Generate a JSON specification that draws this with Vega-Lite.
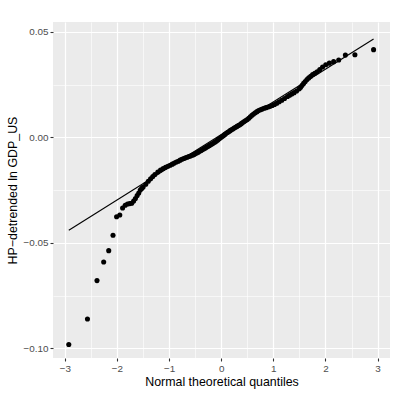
{
  "$schema": "https://vega.github.io/schema/vega-lite/v6.json",
  "width": 337,
  "height": 336,
  "autosize": {"type": "none"},
  "padding": {"left": 53, "top": 22, "right": 21, "bottom": 37},
  "background": "white",
  "config": {
    "view": {"stroke": null, "fill": "#EBEBEB"},
    "axis": {"labelFont": "Liberation Sans", "titleFont": "Liberation Sans"}
  },
  "datasets": {
    "pts": [
      {"q": -2.923, "v": -0.0982}, {"q": -2.565, "v": -0.0861}, {"q": -2.382, "v": -0.0679}, {"q": -2.254, "v": -0.0591},
      {"q": -2.157, "v": -0.0537}, {"q": -2.075, "v": -0.0464}, {"q": -2.006, "v": -0.0376}, {"q": -1.945, "v": -0.0368},
      {"q": -1.891, "v": -0.0335}, {"q": -1.841, "v": -0.0322}, {"q": -1.796, "v": -0.0316}, {"q": -1.754, "v": -0.0314},
      {"q": -1.716, "v": -0.0312}, {"q": -1.679, "v": -0.0302}, {"q": -1.645, "v": -0.0290}, {"q": -1.612, "v": -0.0276},
      {"q": -1.581, "v": -0.0264}, {"q": -1.552, "v": -0.0250}, {"q": -1.524, "v": -0.0242}, {"q": -1.497, "v": -0.0235},
      {"q": -1.446, "v": -0.0222}, {"q": -1.398, "v": -0.0208}, {"q": -1.354, "v": -0.0196}, {"q": -1.312, "v": -0.0186},
      {"q": -1.272, "v": -0.0176}, {"q": -1.215, "v": -0.0164}, {"q": -1.163, "v": -0.0155}, {"q": -1.113, "v": -0.0148},
      {"q": -1.067, "v": -0.0142}, {"q": -1.022, "v": -0.0137}, {"q": -0.979, "v": -0.0132}, {"q": -0.938, "v": -0.0127},
      {"q": -0.898, "v": -0.0122}, {"q": -0.860, "v": -0.0117}, {"q": -0.823, "v": -0.0113}, {"q": -0.787, "v": -0.0108},
      {"q": -0.752, "v": -0.0104}, {"q": -0.718, "v": -0.0100}, {"q": -0.685, "v": -0.0097}, {"q": -0.653, "v": -0.0094},
      {"q": -0.621, "v": -0.0091}, {"q": -0.590, "v": -0.0088}, {"q": -0.559, "v": -0.0085}, {"q": -0.529, "v": -0.0082},
      {"q": -0.500, "v": -0.0078}, {"q": -0.470, "v": -0.0074}, {"q": -0.441, "v": -0.0070}, {"q": -0.413, "v": -0.0066},
      {"q": -0.385, "v": -0.0062}, {"q": -0.357, "v": -0.0058}, {"q": -0.330, "v": -0.0054}, {"q": -0.303, "v": -0.0050},
      {"q": -0.276, "v": -0.0046}, {"q": -0.249, "v": -0.0042}, {"q": -0.222, "v": -0.0038}, {"q": -0.196, "v": -0.0034},
      {"q": -0.170, "v": -0.0030}, {"q": -0.143, "v": -0.0026}, {"q": -0.117, "v": -0.0022}, {"q": -0.091, "v": -0.0017},
      {"q": -0.065, "v": -0.0012}, {"q": -0.039, "v": -0.0007}, {"q": -0.013, "v": -0.0002}, {"q": 0.013, "v": 0.0003},
      {"q": 0.039, "v": 0.0008}, {"q": 0.065, "v": 0.0013}, {"q": 0.091, "v": 0.0018}, {"q": 0.117, "v": 0.0023},
      {"q": 0.143, "v": 0.0027}, {"q": 0.170, "v": 0.0032}, {"q": 0.196, "v": 0.0036}, {"q": 0.222, "v": 0.0040},
      {"q": 0.249, "v": 0.0044}, {"q": 0.276, "v": 0.0048}, {"q": 0.303, "v": 0.0052}, {"q": 0.330, "v": 0.0056},
      {"q": 0.357, "v": 0.0060}, {"q": 0.385, "v": 0.0065}, {"q": 0.413, "v": 0.0070}, {"q": 0.441, "v": 0.0075},
      {"q": 0.470, "v": 0.0080}, {"q": 0.500, "v": 0.0085}, {"q": 0.529, "v": 0.0091}, {"q": 0.559, "v": 0.0098},
      {"q": 0.590, "v": 0.0105}, {"q": 0.621, "v": 0.0111}, {"q": 0.653, "v": 0.0117}, {"q": 0.685, "v": 0.0122},
      {"q": 0.718, "v": 0.0127}, {"q": 0.752, "v": 0.0131}, {"q": 0.787, "v": 0.0134}, {"q": 0.823, "v": 0.0138},
      {"q": 0.860, "v": 0.0141}, {"q": 0.898, "v": 0.0144}, {"q": 0.938, "v": 0.0147}, {"q": 0.979, "v": 0.0151},
      {"q": 1.022, "v": 0.0156}, {"q": 1.067, "v": 0.0162}, {"q": 1.113, "v": 0.0169}, {"q": 1.163, "v": 0.0176},
      {"q": 1.215, "v": 0.0184}, {"q": 1.272, "v": 0.0194}, {"q": 1.312, "v": 0.0200}, {"q": 1.354, "v": 0.0206},
      {"q": 1.398, "v": 0.0212}, {"q": 1.446, "v": 0.0220}, {"q": 1.497, "v": 0.0230}, {"q": 1.524, "v": 0.0238},
      {"q": 1.552, "v": 0.0247}, {"q": 1.581, "v": 0.0256}, {"q": 1.612, "v": 0.0265}, {"q": 1.645, "v": 0.0274},
      {"q": 1.679, "v": 0.0282}, {"q": 1.716, "v": 0.0290}, {"q": 1.754, "v": 0.0298}, {"q": 1.796, "v": 0.0304},
      {"q": 1.841, "v": 0.0311}, {"q": 1.891, "v": 0.0321}, {"q": 1.945, "v": 0.0334}, {"q": 2.006, "v": 0.0344},
      {"q": 2.075, "v": 0.0352}, {"q": 2.157, "v": 0.0359}, {"q": 2.254, "v": 0.0367}, {"q": 2.382, "v": 0.0390},
      {"q": 2.565, "v": 0.0392}, {"q": 2.923, "v": 0.0416}
    ],
    "qqline": [
      {"q": -2.923, "v": -0.0440},
      {"q": 2.923, "v": 0.0466}
    ]
  },
  "resolve": {"axis": {"x": "independent", "y": "independent"}},
  "layer": [
    {
      "data": {"name": "qqline"},
      "mark": {"type": "line", "color": "black", "strokeWidth": 1.1},
      "encoding": {
        "x": {"field": "q", "type": "quantitative",
          "scale": {"domain": [-3.226, 3.238], "nice": false, "zero": false},
          "axis": {"orient": "bottom", "values": [-2.5, -1.5, -0.5, 0.5, 1.5, 2.5], "grid": true, "gridColor": "white", "gridWidth": 0.6,
            "labels": false, "ticks": false, "domain": false, "title": null}},
        "y": {"field": "v", "type": "quantitative",
          "scale": {"domain": [-0.1046, 0.0547], "nice": false, "zero": false},
          "axis": {"orient": "left", "values": [-0.075, -0.025, 0.025], "grid": true, "gridColor": "white", "gridWidth": 0.6,
            "labels": false, "ticks": false, "domain": false, "title": null}}
      }
    },
    {
      "data": {"name": "pts"},
      "mark": {"type": "circle", "color": "black", "opacity": 1, "size": 26},
      "encoding": {
        "x": {"field": "q", "type": "quantitative",
          "scale": {"domain": [-3.226, 3.238], "nice": false, "zero": false},
          "axis": {"orient": "bottom", "values": [-3, -2, -1, 0, 1, 2, 3], "format": "d", "grid": true, "gridColor": "white", "gridWidth": 1.2,
            "domain": false, "tickSize": 3, "tickColor": "#333333", "tickWidth": 1.1, "labelColor": "#4D4D4D", "labelFontSize": 9.9,
            "labelPadding": 2, "title": "Normal theoretical quantiles", "titleFontSize": 12.4, "titleFontWeight": "normal",
            "titleColor": "black", "titlePadding": 3}},
        "y": {"field": "v", "type": "quantitative",
          "scale": {"domain": [-0.1046, 0.0547], "nice": false, "zero": false},
          "axis": {"orient": "left", "values": [-0.1, -0.05, 0, 0.05], "format": ".2f", "grid": true, "gridColor": "white", "gridWidth": 1.2,
            "domain": false, "tickSize": 3, "tickColor": "#333333", "tickWidth": 1.1, "labelColor": "#4D4D4D", "labelFontSize": 9.9,
            "labelPadding": 2, "title": "HP−detrended  ln GDP_US", "titleFontSize": 12.4, "titleFontWeight": "normal",
            "titleColor": "black", "titlePadding": 4}}
      }
    }
  ]
}
